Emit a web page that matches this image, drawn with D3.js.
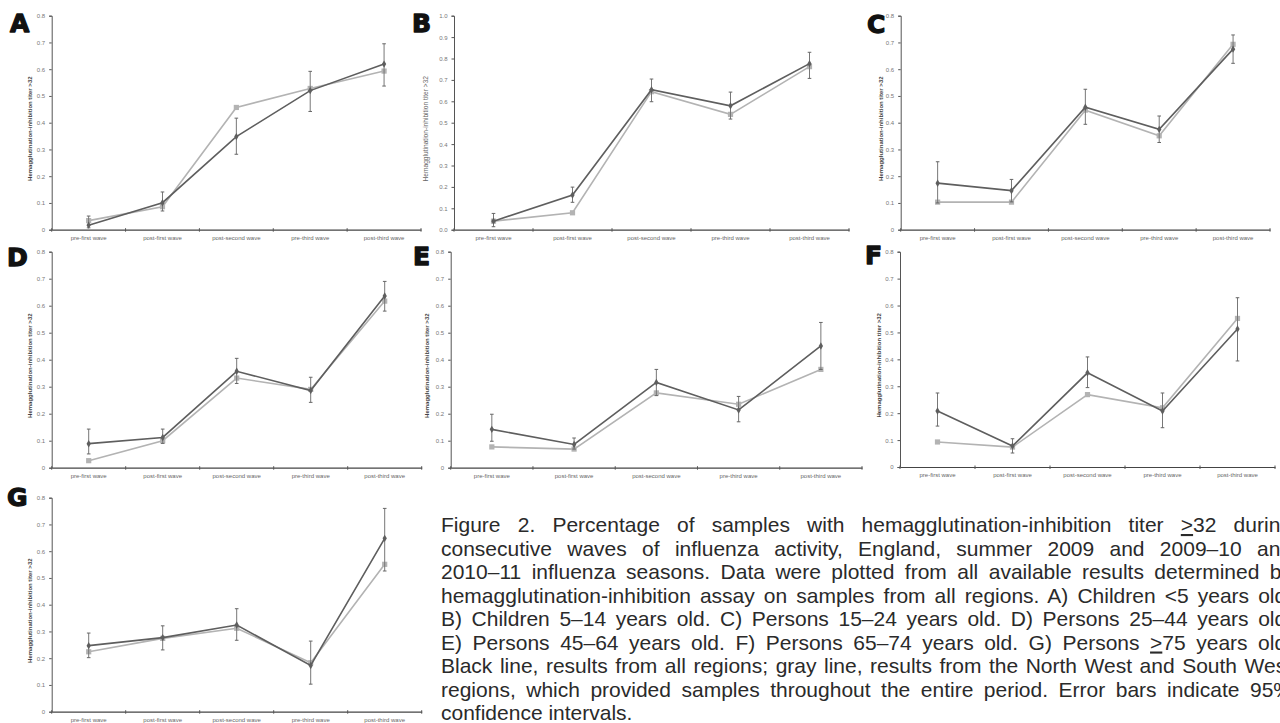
<!DOCTYPE html>
<html>
<head>
<meta charset="utf-8">
<script src="https://cdn.jsdelivr.net/npm/d3@7"></script>
<style>
  body { margin: 0; background: #fff; }
  svg { display: block; }
</style>
</head>
<body>
<svg id="fig" width="1280" height="723"></svg>
<script>
// Дані
const categories = ["pre-first wave", "post-first wave", "post-second wave", "pre-third wave", "post-third wave"];
const letters = ["A", "B", "C", "D", "E", "F", "G"];
const yMax = [0.8, 1.0, 0.8, 0.8, 0.8, 0.8, 0.8];

// чорна лінія: усі регіони
const allRegions = [
  [0.017, 0.101, 0.348, 0.520, 0.619],
  [0.040, 0.162, 0.654, 0.579, 0.776],
  [0.174, 0.146, 0.458, 0.375, 0.675],
  [0.089, 0.112, 0.357, 0.286, 0.636],
  [0.142, 0.086, 0.316, 0.214, 0.451],
  [0.208, 0.078, 0.350, 0.208, 0.513],
  [0.247, 0.277, 0.324, 0.173, 0.648]
];
// сіра лінія: North West + South West
const nwSw = [
  [0.034, 0.086, 0.457, 0.528, 0.593],
  [0.040, 0.079, 0.645, 0.539, 0.762],
  [0.103, 0.103, 0.447, 0.351, 0.693],
  [0.026, 0.100, 0.332, 0.290, 0.617],
  [0.077, 0.069, 0.277, 0.235, 0.364],
  [0.093, 0.074, 0.269, 0.220, 0.552],
  [0.224, 0.274, 0.312, 0.183, 0.551]
];
// 95% довірчі інтервали
const ciLow = [
  [0.007, 0.070, 0.282, 0.442, 0.537],
  [0.014, 0.128, 0.598, 0.517, 0.707],
  [0.100, 0.104, 0.394, 0.326, 0.622],
  [0.051, 0.090, 0.312, 0.242, 0.580],
  [0.098, 0.069, 0.267, 0.170, 0.364],
  [0.152, 0.052, 0.295, 0.146, 0.394],
  [0.202, 0.231, 0.267, 0.103, 0.526]
];
const ciHigh = [
  [0.051, 0.141, 0.417, 0.592, 0.695],
  [0.076, 0.199, 0.704, 0.643, 0.829],
  [0.254, 0.188, 0.525, 0.425, 0.728],
  [0.143, 0.143, 0.405, 0.335, 0.690],
  [0.198, 0.110, 0.364, 0.264, 0.538],
  [0.275, 0.105, 0.409, 0.275, 0.629],
  [0.294, 0.321, 0.385, 0.264, 0.760]
];

const yTitle = "Hemagglutination-inhibition titer >32";
const captionLines = [
  "Figure 2. Percentage of samples with hemagglutination-inhibition titer _>_32 during",
  "consecutive waves of influenza activity, England, summer 2009 and 2009–10 and",
  "2010–11 influenza seasons. Data were plotted from all available results determined by",
  "hemagglutination-inhibition assay on samples from all regions. A) Children <5 years old.",
  "B) Children 5–14 years old. C) Persons 15–24 years old. D) Persons 25–44 years old.",
  "E) Persons 45–64 years old. F) Persons 65–74 years old. G) Persons _>_75 years old.",
  "Black line, results from all regions; gray line, results from the North West and South West",
  "regions, which provided samples throughout the entire period. Error bars indicate 95%",
  "confidence intervals."
];

// Розташування панелей (пікселі)
const layout = [
  { x0: 51.7,  x1: 421,  yTop: 15.7,  yBot: 229.7, tx: 29.5,  lx: 10,  ly: 32 },
  { x0: 454,   x1: 849,  yTop: 15.7,  yBot: 229.7, tx: 425.5, lx: 412, ly: 32 },
  { x0: 900.7, x1: 1270, yTop: 15.7,  yBot: 229.7, tx: 880.5, lx: 867, ly: 33 },
  { x0: 51.7,  x1: 421.7, yTop: 251.7, yBot: 467.7, tx: 29.5,  lx: 7,   ly: 266 },
  { x0: 450.7, x1: 862,  yTop: 251.7, yBot: 467.7, tx: 427,   lx: 413, ly: 265 },
  { x0: 900,   x1: 1275, yTop: 251.7, yBot: 467,   tx: 879,   lx: 865, ly: 264 },
  { x0: 51.7,  x1: 421.7, yTop: 497.7, yBot: 711.7, tx: 29.5,  lx: 7,   ly: 506 }
];

const svg = d3.select("#fig");
const darkCol = "#5e5e5e";
const grayCol = "#b3b3b3";

function drawPanel(i) {
  const L = layout[i];
  const g = svg.append("g");

  const x = d3.scaleBand().domain(categories).range([L.x0, L.x1]);
  const y = d3.scaleLinear().domain([0, yMax[i]]).range([L.yBot, L.yTop]);

  // вісь Y
  const fmt = yMax[i] === 1.0 ? d3.format(".1f") : (v => v < 1e-9 ? "0" : d3.format(".1f")(v));
  const yAxis = g.append("g")
    .attr("transform", `translate(${L.x0},0)`)
    .call(d3.axisLeft(y).tickValues(d3.range(0, yMax[i] + 1e-6, 0.1)).tickSize(2.5).tickPadding(4).tickFormat(fmt));
  yAxis.select(".domain").attr("stroke", "#555").attr("stroke-width", 1);
  yAxis.selectAll(".tick line").attr("stroke", "#555");
  yAxis.selectAll("text").attr("fill", "#777").style("font-size", "6px").style("font-family", "Liberation Sans, Arial, sans-serif");

  // вісь X з рисками на межах категорій
  const xAxis = g.append("g")
    .attr("transform", `translate(0,${L.yBot})`)
    .call(d3.axisBottom(x).tickSize(0).tickPadding(6));
  xAxis.select(".domain").attr("stroke", "#444").attr("stroke-width", 1.2);
  xAxis.selectAll("text").attr("fill", "#666").style("font-size", "6px").style("font-family", "Liberation Sans, Arial, sans-serif");
  g.selectAll(".xtick")
    .data(categories.concat(["end"]))
    .enter().append("line")
    .attr("x1", (d, k) => L.x0 + k * x.bandwidth())
    .attr("x2", (d, k) => L.x0 + k * x.bandwidth())
    .attr("y1", L.yBot - 1.5)
    .attr("y2", L.yBot + 2)
    .attr("stroke", "#555");

  // підпис осі Y
  g.append("text")
    .attr("transform", `translate(${L.tx},${(L.yTop + L.yBot) / 2 + 6}) rotate(-90)`)
    .attr("text-anchor", "middle")
    .attr("dy", "0.35em")
    .style("font-family", "Liberation Sans, Arial, sans-serif")
    .style("font-size", i === 1 ? "6.6px" : "6px")
    .style("font-weight", i === 1 ? "normal" : "bold")
    .attr("fill", i === 1 ? "#666" : "#444")
    .text(yTitle);

  // буква панелі
  g.append("text")
    .attr("x", L.lx)
    .attr("y", L.ly)
    .style("font-family", "DejaVu Sans, sans-serif")
    .style("font-weight", "bold")
    .style("font-size", "25px")
    .attr("fill", "#111")
    .attr("stroke", "#111")
    .attr("stroke-width", 1.3)
    .attr("stroke-linejoin", "round")
    .text(letters[i]);

  const cx = k => x(categories[k]) + x.bandwidth() / 2;
  const line = d3.line().x((d, k) => cx(k)).y(d => y(d));

  // сіра лінія
  g.append("path").datum(nwSw[i])
    .attr("d", line).attr("fill", "none")
    .attr("stroke", grayCol).attr("stroke-width", 1.6);
  g.selectAll(".gsq").data(nwSw[i]).enter().append("rect")
    .attr("x", (d, k) => cx(k) - 2.6).attr("y", d => y(d) - 2.6)
    .attr("width", 5.2).attr("height", 5.2)
    .attr("fill", grayCol);

  // довірчі інтервали
  const eb = g.selectAll(".eb").data(categories).enter().append("g");
  eb.append("line")
    .attr("x1", (d, k) => cx(k)).attr("x2", (d, k) => cx(k))
    .attr("y1", (d, k) => y(ciLow[i][k])).attr("y2", (d, k) => y(ciHigh[i][k]))
    .attr("stroke", "#777").attr("stroke-width", 1);
  eb.append("line")
    .attr("x1", (d, k) => cx(k) - 1.8).attr("x2", (d, k) => cx(k) + 1.8)
    .attr("y1", (d, k) => y(ciHigh[i][k])).attr("y2", (d, k) => y(ciHigh[i][k]))
    .attr("stroke", "#666").attr("stroke-width", 1);
  eb.append("line")
    .attr("x1", (d, k) => cx(k) - 1.8).attr("x2", (d, k) => cx(k) + 1.8)
    .attr("y1", (d, k) => y(ciLow[i][k])).attr("y2", (d, k) => y(ciLow[i][k]))
    .attr("stroke", "#666").attr("stroke-width", 1);

  // темна лінія
  g.append("path").datum(allRegions[i])
    .attr("d", line).attr("fill", "none")
    .attr("stroke", darkCol).attr("stroke-width", 1.6);
  g.selectAll(".dpt").data(allRegions[i]).enter().append("path")
    .attr("transform", (d, k) => `translate(${cx(k)},${y(d)})`)
    .attr("d", d3.symbol(d3.symbolDiamond, 16))
    .attr("fill", darkCol);
}

letters.forEach((d, i) => drawPanel(i));

// Підпис до рисунка: вузький шрифт, вирівнювання за шириною через word-spacing
const capX = 441, capW = 851, capY = 532, capStep = 23.5;
const cap = svg.append("g")
  .style("font-family", "Liberation Sans, Arial, sans-serif")
  .style("font-size", "21px")
  .attr("fill", "#2a2a2a");

const rows = captionLines.map((t, j) => {
  const row = cap.append("g").attr("transform", `translate(${capX},${capY + j * capStep})`);
  const txt = row.append("text").attr("x", 0).attr("y", 0);
  t.split(/_>_/).forEach((p, n) => {
    if (n > 0) txt.append("tspan").style("text-decoration", "underline").text(">");
    txt.append("tspan").text(p);
  });
  return { row, txt, t };
});

// рядок 7 у оригіналі майже без розтягування — за ним визначаємо стиснення
const natural7 = rows[6].txt.node().getComputedTextLength();
const sx = Math.min(1, capW / natural7);
rows.forEach((r, j) => {
  r.row.attr("transform", `translate(${capX},${capY + j * capStep}) scale(${sx},1)`);
  if (j === rows.length - 1) return;
  const w = r.txt.node().getComputedTextLength();
  const spaces = (r.t.match(/ /g) || []).length;
  const extra = (capW / sx - w) / spaces;
  r.txt.style("word-spacing", extra + "px");
});
</script>
</body>
</html>
